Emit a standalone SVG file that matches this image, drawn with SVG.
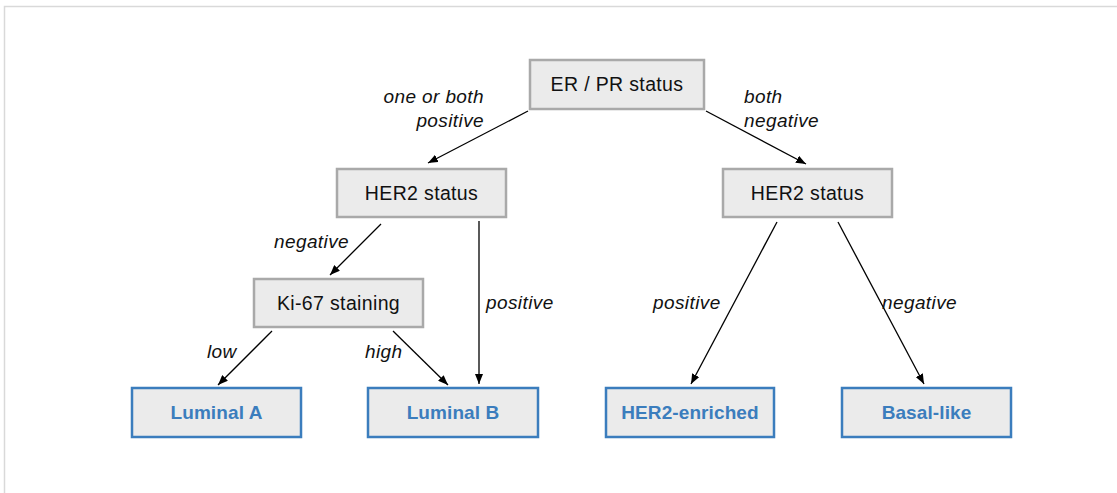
<svg xmlns="http://www.w3.org/2000/svg" width="1117" height="493" viewBox="0 0 1117 493">
  <defs>
    <marker id="arrow" markerUnits="userSpaceOnUse" markerWidth="10" markerHeight="8" refX="10" refY="4" orient="auto">
      <path d="M0,0 L10,4 L0,8 z" fill="#000"/>
    </marker>
    <style>
      .frame { fill: none; stroke: #d9d9d9; stroke-width: 1.5; }
      .box { fill: #ebebeb; stroke: #a9a9a9; stroke-width: 2.5; }
      .leaf { fill: #ebebeb; stroke: #3b7dbd; stroke-width: 2.5; }
      .txt { font-family: "Liberation Sans", Arial, sans-serif; font-size: 19.5px; letter-spacing: 0.35px; fill: #111; text-anchor: middle; }
      .leaftxt { font-family: "Liberation Sans", Arial, sans-serif; font-size: 19px; letter-spacing: 0.1px; font-weight: bold; fill: #3b7dbd; text-anchor: middle; }
      .lbl { font-family: "Liberation Sans", Arial, sans-serif; font-size: 19px; letter-spacing: 0.4px; font-style: italic; fill: #111; }
      .edge { stroke: #000; stroke-width: 1.3; fill: none; marker-end: url(#arrow); }
    </style>
  </defs>

  <rect width="1117" height="493" fill="#fff"/>
  <path class="frame" d="M4.5,493 L4.5,6.5 L1117,6.5"/>

  <!-- connectors -->
  <g id="connectors">
    <line class="edge" x1="528" y1="111" x2="428" y2="163"/>
    <line class="edge" x1="706" y1="111" x2="806" y2="164"/>
    <line class="edge" x1="381" y1="224" x2="330" y2="275"/>
    <line class="edge" x1="479" y1="221" x2="479" y2="384"/>
    <line class="edge" x1="272" y1="331" x2="218" y2="385"/>
    <line class="edge" x1="393" y1="331" x2="448" y2="385"/>
    <line class="edge" x1="777" y1="222" x2="691" y2="384"/>
    <line class="edge" x1="838" y1="222" x2="924" y2="384"/>
  </g>

  <!-- edge labels -->
  <g id="labels">
    <text class="lbl" x="484" y="103" text-anchor="end">one or both</text>
    <text class="lbl" x="484" y="127" text-anchor="end">positive</text>
    <text class="lbl" x="744" y="103">both</text>
    <text class="lbl" x="744" y="127">negative</text>
    <text class="lbl" x="274" y="248">negative</text>
    <text class="lbl" x="486" y="309">positive</text>
    <text class="lbl" x="207" y="358">low</text>
    <text class="lbl" x="365" y="358">high</text>
    <text class="lbl" x="653" y="309">positive</text>
    <text class="lbl" x="882" y="309">negative</text>
  </g>

  <g id="er-pr-status">
    <rect class="box" x="530" y="60" width="174" height="49"/>
    <text class="txt" x="617" y="91">ER / PR status</text>
  </g>
  <g id="her2-status-left">
    <rect class="box" x="337" y="169" width="169" height="48"/>
    <text class="txt" x="421.5" y="200">HER2 status</text>
  </g>
  <g id="her2-status-right">
    <rect class="box" x="723" y="169" width="169" height="48"/>
    <text class="txt" x="807.5" y="200">HER2 status</text>
  </g>
  <g id="ki67-staining">
    <rect class="box" x="254" y="279" width="169" height="48"/>
    <text class="txt" x="338.5" y="310">Ki-67 staining</text>
  </g>
  <g id="luminal-a">
    <rect class="leaf" x="132" y="388" width="169" height="49"/>
    <text class="leaftxt" x="216.5" y="419">Luminal A</text>
  </g>
  <g id="luminal-b">
    <rect class="leaf" x="368" y="388" width="170" height="49"/>
    <text class="leaftxt" x="453" y="419">Luminal B</text>
  </g>
  <g id="her2-enriched">
    <rect class="leaf" x="606" y="388" width="168" height="49"/>
    <text class="leaftxt" x="690" y="419">HER2-enriched</text>
  </g>
  <g id="basal-like">
    <rect class="leaf" x="842" y="388" width="169" height="49"/>
    <text class="leaftxt" x="926.5" y="419">Basal-like</text>
  </g>
</svg>
